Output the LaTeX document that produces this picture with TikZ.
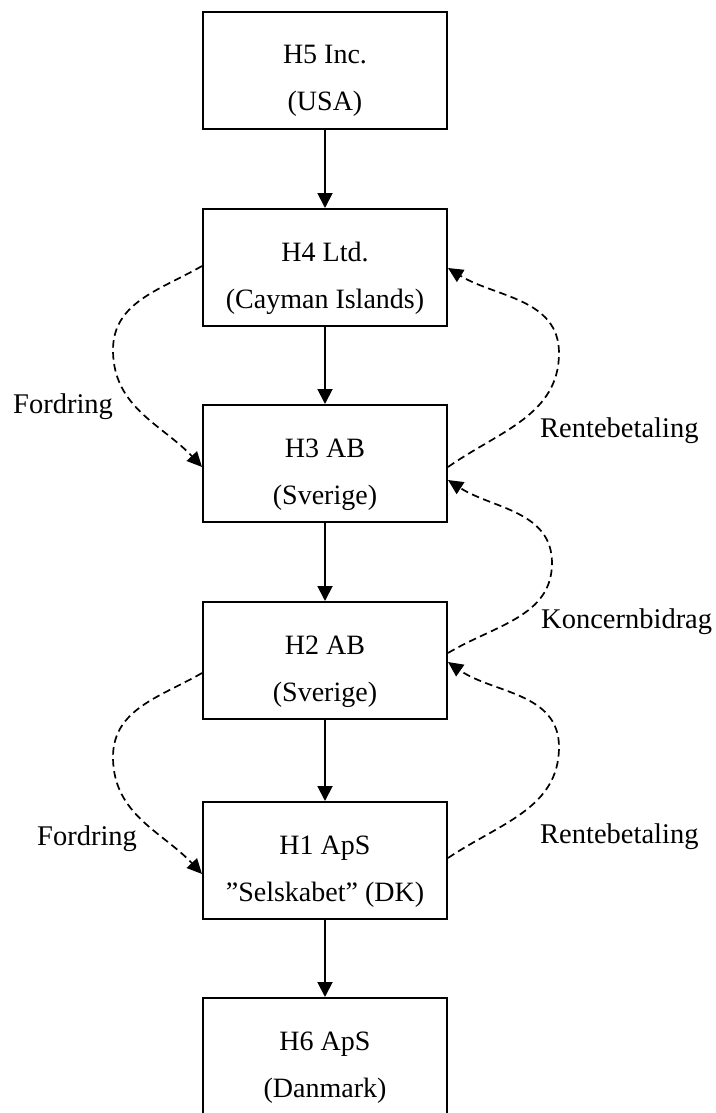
\documentclass[tikz,border=0pt]{standalone}
\usepackage{fontspec}
\setmainfont{Liberation Serif}
\usetikzlibrary{arrows.meta,calc}
\tikzset{
  box/.style={draw, line width=2pt, minimum width=244pt, minimum height=117pt, inner sep=0pt},
  txt/.style={anchor=base, inner sep=0pt, font=\fontsize{28}{32}\selectfont},
  lbl/.style={anchor=base west, inner sep=0pt, font=\fontsize{28.5}{32}\selectfont},
  own/.style={line width=1.9pt, -{Triangle[length=15pt,width=15pt]}},
  flow/.style={line width=1.7pt, dash pattern=on 7.5pt off 4.5pt, -{Triangle[length=15pt,width=14pt]}},
}
\begin{document}
\begin{tikzpicture}[x=1pt,y=1pt]
\useasboundingbox (0,0) rectangle (715,-1113);
\clip (0,0) rectangle (715,-1113);
% boxes
\node[box] (h5) at (325,-70.5) {};
\node[box] (h4) at (325,-267.5) {};
\node[box] (h3) at (325,-463.5) {};
\node[box] (h2) at (325,-660.5) {};
\node[box] (h1) at (325,-860.5) {};
\node[box] (h6) at (325,-1056.5) {};
% box texts
\node[txt] (h5a) at ($(h5.north)+(0,-53)$) {H5 Inc.};
\node[txt] (h5b) at ($(h5.north)+(0,-100)$) {(USA)};
\node[txt] (h4a) at ($(h4.north)+(0,-53)$) {H4 Ltd.};
\node[txt] (h4b) at ($(h4.north)+(0,-100)$) {(Cayman Islands)};
\node[txt] (h3a) at ($(h3.north)+(0,-53)$) {H3 AB};
\node[txt] (h3b) at ($(h3.north)+(0,-100)$) {(Sverige)};
\node[txt] (h2a) at ($(h2.north)+(0,-53)$) {H2 AB};
\node[txt] (h2b) at ($(h2.north)+(0,-100)$) {(Sverige)};
\node[txt] (h1a) at ($(h1.north)+(0,-53)$) {H1 ApS};
\node[txt] (h1b) at ($(h1.north)+(0,-100)$) {”Selskabet” (DK)};
\node[txt] (h6a) at ($(h6.north)+(0,-53)$) {H6 ApS};
\node[txt] (h6b) at ($(h6.north)+(0,-100)$) {(Danmark)};
% ownership arrows
\draw[own] (h5.south) -- (h4.north);
\draw[own] (h4.south) -- (h3.north);
\draw[own] (h3.south) -- (h2.north);
\draw[own] (h2.south) -- (h1.north);
\draw[own] (h1.south) -- (h6.north);
% curve apexes
\coordinate (f1m) at (113,-350);
\coordinate (r1m) at (559,-353);
\coordinate (k1m) at (552,-563);
\coordinate (f2m) at (113,-757);
\coordinate (r2m) at (559,-747);
% dashed flows
\draw[flow] ($(h4.west)+(0,1.5)$) to[out=210,in=90] (f1m) to[out=270,in=133] ($(h3.west)+(0,-3.5)$);
\draw[flow] ($(h3.east)+(0,-3.5)$) to[out=35,in=270] (r1m) to[out=90,in=-32] ($(h4.east)+(0,-0.5)$);
\draw[flow] ($(h2.east)+(0,7.5)$) to[out=31,in=270] (k1m) to[out=90,in=-33] ($(h3.east)+(0,-16.5)$);
\draw[flow] ($(h2.west)+(0,-12.5)$) to[out=210,in=90] (f2m) to[out=270,in=133] ($(h1.west)+(0,-13.5)$);
\draw[flow] ($(h1.east)+(0,2.5)$) to[out=34,in=270] (r2m) to[out=90,in=-35] ($(h2.east)+(0,-1.5)$);
% labels
\node[lbl] (lf1) at (13,-413) {Fordring};
\node[lbl] (lr1) at (540,-437) {Rentebetaling};
\node[lbl] (lk1) at (541,-628) {Koncernbidrag};
\node[lbl] (lf2) at (37,-845) {Fordring};
\node[lbl] (lr2) at (540,-843) {Rentebetaling};
\end{tikzpicture}
\end{document}
